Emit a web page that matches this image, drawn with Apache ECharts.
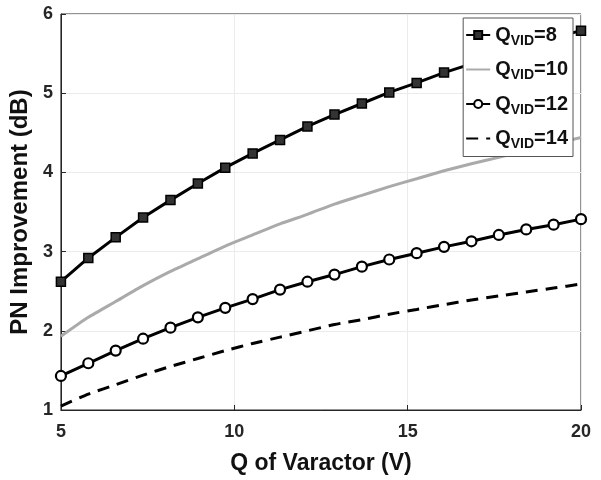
<!DOCTYPE html>
<html>
<head>
<meta charset="utf-8">
<script src="https://cdn.jsdelivr.net/npm/echarts@6/dist/echarts.min.js"></script>
<style>
  html, body { margin: 0; padding: 0; background: #fff; }
  #chart { width: 601px; height: 480px; }
</style>
</head>
<body>
<div id="chart"></div>
<script>
// Q of varactor, 20 evenly spaced samples from 5 to 20
const qVaractor = [5, 5.79, 6.58, 7.37, 8.16, 8.95, 9.74, 10.53, 11.32, 12.11,
  12.89, 13.68, 14.47, 15.26, 16.05, 16.84, 17.63, 18.42, 19.21, 20];

const seriesNames = ["Q_VID=8", "Q_VID=10", "Q_VID=12", "Q_VID=14"];

const pnQ8 = [2.62, 2.92, 3.18, 3.43, 3.65, 3.86, 4.06, 4.24, 4.41, 4.58,
  4.73, 4.87, 5.01, 5.13, 5.26, 5.37, 5.49, 5.60, 5.70, 5.79];
const pnQ10 = [1.93, 2.17, 2.37, 2.57, 2.75, 2.91, 3.07, 3.21, 3.35, 3.47,
  3.60, 3.71, 3.82, 3.92, 4.02, 4.11, 4.19, 4.28, 4.36, 4.44];
const pnQ12 = [1.43, 1.59, 1.75, 1.90, 2.04, 2.17, 2.29, 2.40, 2.52, 2.62,
  2.71, 2.81, 2.90, 2.98, 3.06, 3.13, 3.21, 3.28, 3.34, 3.41];
const pnQ14 = [1.05, 1.20, 1.32, 1.44, 1.55, 1.65, 1.75, 1.84, 1.92, 2.00,
  2.08, 2.14, 2.21, 2.27, 2.33, 2.39, 2.44, 2.49, 2.54, 2.59];

const xTicks = [5, 10, 15, 20];
const yTicks = [1, 2, 3, 4, 5, 6];

function pairs(ys) {
  return ys.map((y, i) => [qVaractor[i], y]);
}

const chart = echarts.init(document.getElementById("chart"));
const font = "Liberation Sans, Arial, sans-serif";

const option = {
  backgroundColor: "#fff",
  animation: false,
  grid: {
    left: 59, right: 20, top: 14, bottom: 70,
    show: true, borderColor: "#262626", borderWidth: 1, backgroundColor: "#fff"
  },
  legend: {
    orient: "vertical",
    right: 28, top: 18,
    padding: [4, 5, 5, 2],
    itemGap: 8.5,
    itemWidth: 24, itemHeight: 10,
    backgroundColor: "#fff",
    borderColor: "#555",
    borderWidth: 1,
    data: [
      { name: seriesNames[0] },
      { name: seriesNames[1], itemStyle: { opacity: 0 } },
      { name: seriesNames[2] },
      { name: seriesNames[3], itemStyle: { opacity: 0 } }
    ],
    formatter: function (name) {
      return "{a|Q}{b|VID}{a|=" + name.split("=")[1] + "}";
    },
    textStyle: {
      rich: {
        a: { fontSize: 20, fontWeight: "bold", fontFamily: font, color: "#111", lineHeight: 26 },
        b: { fontSize: 14, fontWeight: "bold", fontFamily: font, color: "#111", lineHeight: 14, padding: [12, 0, 0, 0] }
      }
    }
  },
  xAxis: {
    type: "value",
    min: 5, max: 20, interval: 5,
    name: "Q of Varactor (V)",
    nameLocation: "middle",
    nameGap: 42,
    nameTextStyle: { fontSize: 23, fontWeight: "bold", fontFamily: font, color: "#111" },
    axisLine: { show: true, onZero: false, lineStyle: { color: "#262626", width: 1 } },
    axisTick: { show: true, inside: true, length: 5, lineStyle: { color: "#262626" } },
    axisLabel: {
      margin: 13, fontSize: 18, fontWeight: "bold", fontFamily: font, color: "#262626",
      formatter: v => (xTicks.includes(v) ? String(v) : "")
    },
    splitLine: { show: true, lineStyle: { color: "#ebebeb", width: 1 } }
  },
  yAxis: {
    type: "value",
    min: 1, max: 6, interval: 1,
    name: "PN Improvement (dB)",
    nameLocation: "middle",
    nameGap: 21,
    nameTextStyle: { fontSize: 24, fontWeight: "bold", fontFamily: font, color: "#111" },
    axisLine: { show: true, onZero: false, lineStyle: { color: "#262626", width: 1 } },
    axisTick: { show: true, inside: true, length: 5, lineStyle: { color: "#262626" } },
    axisLabel: {
      margin: 8, fontSize: 18, fontWeight: "bold", fontFamily: font, color: "#262626",
      formatter: v => (yTicks.includes(v) ? String(v) : "")
    },
    splitLine: { show: true, lineStyle: { color: "#ebebeb", width: 1 } }
  },
  series: [
    {
      name: seriesNames[0], type: "line", data: pairs(pnQ8),
      symbol: "rect", symbolSize: 9, showAllSymbol: true,
      lineStyle: { color: "#000", width: 3 },
      itemStyle: { color: "#333", borderColor: "#000", borderWidth: 1.5 },
      z: 3
    },
    {
      name: seriesNames[1], type: "line", data: pairs(pnQ10),
      symbol: "none", smooth: 0.2,
      lineStyle: { color: "#aaaaaa", width: 3 },
      itemStyle: { color: "#aaaaaa" },
      z: 2
    },
    {
      name: seriesNames[2], type: "line", data: pairs(pnQ12),
      symbol: "circle", symbolSize: 10, showAllSymbol: true,
      lineStyle: { color: "#000", width: 3 },
      itemStyle: { color: "#fff", borderColor: "#000", borderWidth: 2.2 },
      z: 3
    },
    {
      name: seriesNames[3], type: "line", data: pairs(pnQ14),
      symbol: "none", smooth: 0.2,
      lineStyle: { color: "#000", width: 3, type: [12, 8] },
      itemStyle: { color: "#000" },
      z: 2
    }
  ]
};

chart.setOption(option);
</script>
</body>
</html>
